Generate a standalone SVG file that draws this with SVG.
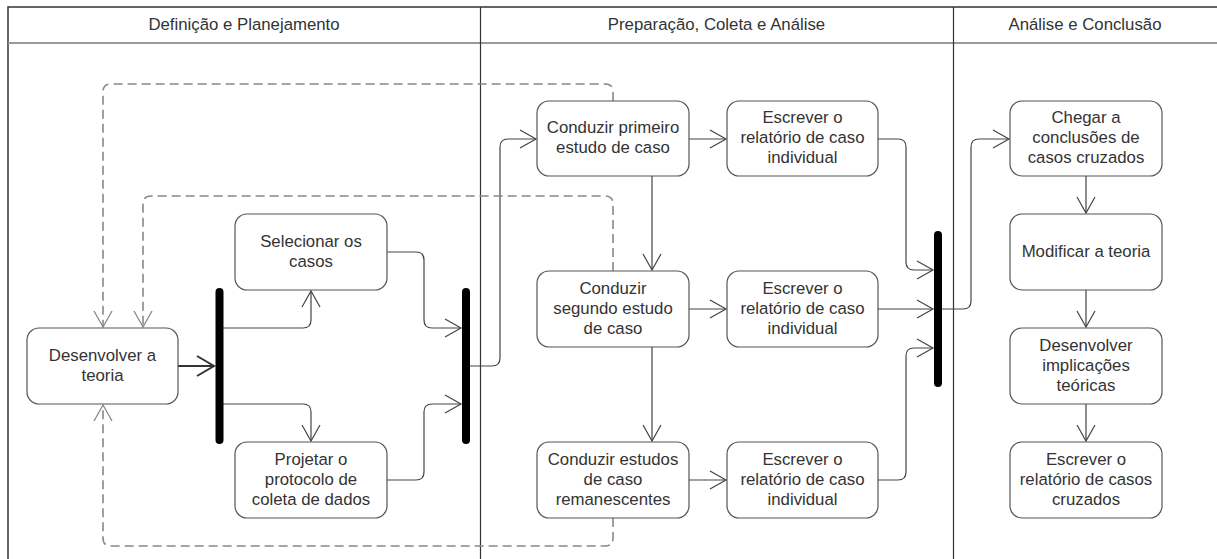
<svg xmlns="http://www.w3.org/2000/svg" width="1217" height="559" viewBox="0 0 1217 559">
<style>
.frame{stroke:#333;stroke-width:1.5;fill:none}
.hdrline{stroke:#999;stroke-width:2;fill:none}
.div{stroke:#333;stroke-width:1.2;fill:none}
.hdr{font-family:"Liberation Sans",Arial,sans-serif;font-size:16.8px;fill:#333;text-anchor:middle}
.node rect{fill:#fff;stroke:#555;stroke-width:1.2}
.node text{font-family:"Liberation Sans",Arial,sans-serif;font-size:16.8px;fill:#333;text-anchor:middle}
.bar{stroke:#000;stroke-width:8;stroke-linecap:round}
.c{fill:none;stroke:#444;stroke-width:1.2;marker-end:url(#arr)}
.thick{stroke:#333;stroke-width:2;marker-end:url(#arrT)}
.d{fill:none;stroke:#888;stroke-width:1.6;stroke-dasharray:9 5;marker-end:url(#arrD)}
</style>
<defs>
<marker id="arr" markerUnits="userSpaceOnUse" viewBox="-18 -11 20 22" refX="0" refY="0" markerWidth="20" markerHeight="22" orient="auto">
<path d="M-16,-9 L0,0 L-16,9" fill="none" stroke="#444" stroke-width="1.2"/>
</marker>
<marker id="arrT" markerUnits="userSpaceOnUse" viewBox="-20 -12 22 24" refX="0" refY="0" markerWidth="22" markerHeight="24" orient="auto">
<path d="M-17,-10 L0,0 L-17,10" fill="none" stroke="#333" stroke-width="2"/>
</marker>
<marker id="arrD" markerUnits="userSpaceOnUse" viewBox="-18 -11 20 22" refX="0" refY="0" markerWidth="20" markerHeight="22" orient="auto">
<path d="M-16,-9 L0,0 L-16,9" fill="none" stroke="#888" stroke-width="1.3"/>
</marker>
</defs>
<rect width="1217" height="559" fill="#fff"/>
<g id="swimlanes">
<path class="frame" d="M8,559 V7 H1217"/>
<path class="hdrline" d="M8,43 H1217"/>
<path class="div" d="M480.5,7 V559 M953.5,7 V559"/>
<text class="hdr" x="244" y="30">Definição e Planejamento</text>
<text class="hdr" x="716.5" y="30">Preparação, Coleta e Análise</text>
<text class="hdr" x="1085" y="30">Análise e Conclusão</text>
</g>
<g id="connectors">
<path class="c thick" d="M178,366 H214"/>
<path class="c" d="M223,328 H303 Q311,328 311,320 V291"/>
<path class="c" d="M223,404 H303 Q311,404 311,412 V441"/>
<path class="c" d="M387,252 H416 Q424,252 424,260 V320 Q424,328 432,328 H461"/>
<path class="c" d="M387,480 H416 Q424,480 424,472 V412 Q424,404 432,404 H461"/>
<path class="c" d="M470,366 H492 Q500,366 500,358 V147 Q500,139 508,139 H536"/>
<path class="c" d="M689,139 H726"/>
<path class="c" d="M652,176 V270"/>
<path class="c" d="M689,309 H726"/>
<path class="c" d="M652,347 V441"/>
<path class="c" d="M689,480 H726"/>
<path class="c" d="M878,139 H898 Q906,139 906,147 V262 Q906,270 914,270 H933"/>
<path class="c" d="M878,309 H933"/>
<path class="c" d="M878,480 H898 Q906,480 906,472 V356 Q906,348 914,348 H933"/>
<path class="c" d="M942,309 H963 Q971,309 971,301 V147 Q971,139 979,139 H1009"/>
<path class="c" d="M1086,176 V213"/>
<path class="c" d="M1086,290 V327"/>
<path class="c" d="M1086,404 V441"/>
<path class="d" d="M613,101 V92 Q613,84 605,84 H111 Q103,84 103,92 V327"/>
<path class="d" d="M613,271 V204 Q613,196 605,196 H151 Q143,196 143,204 V327"/>
<path class="d" d="M613,518 V538 Q613,546 605,546 H111 Q103,546 103,538 V405"/>
</g>
<g id="bar1"><line class="bar" x1="219.5" y1="292" x2="219.5" y2="440"/></g>
<g id="bar2"><line class="bar" x1="466" y1="292" x2="466" y2="440"/></g>
<g id="bar3"><line class="bar" x1="938" y1="235" x2="938" y2="383"/></g>
<g id="n_teoria" class="node"><rect x="27" y="328" width="151" height="76" rx="12"/><text x="102.5" y="360.5">Desenvolver a</text><text x="102.5" y="380.5">teoria</text></g>
<g id="n_selecionar" class="node"><rect x="235" y="214" width="152" height="76" rx="12"/><text x="311" y="246.5">Selecionar os</text><text x="311" y="266.5">casos</text></g>
<g id="n_projetar" class="node"><rect x="235" y="442" width="152" height="76" rx="12"/><text x="311" y="464.5">Projetar o</text><text x="311" y="484.5">protocolo de</text><text x="311" y="504.5">coleta de dados</text></g>
<g id="n_primeiro" class="node"><rect x="537" y="101" width="152" height="75" rx="12"/><text x="613" y="133">Conduzir primeiro</text><text x="613" y="153">estudo de caso</text></g>
<g id="n_rel1" class="node"><rect x="727" y="101" width="151" height="75" rx="12"/><text x="802.5" y="123">Escrever o</text><text x="802.5" y="143">relatório de caso</text><text x="802.5" y="163">individual</text></g>
<g id="n_segundo" class="node"><rect x="537" y="271" width="152" height="76" rx="12"/><text x="613" y="293.5">Conduzir</text><text x="613" y="313.5">segundo estudo</text><text x="613" y="333.5">de caso</text></g>
<g id="n_rel2" class="node"><rect x="727" y="271" width="151" height="76" rx="12"/><text x="802.5" y="293.5">Escrever o</text><text x="802.5" y="313.5">relatório de caso</text><text x="802.5" y="333.5">individual</text></g>
<g id="n_remanescentes" class="node"><rect x="537" y="442" width="152" height="76" rx="12"/><text x="613" y="464.5">Conduzir estudos</text><text x="613" y="484.5">de caso</text><text x="613" y="504.5">remanescentes</text></g>
<g id="n_rel3" class="node"><rect x="727" y="442" width="151" height="76" rx="12"/><text x="802.5" y="464.5">Escrever o</text><text x="802.5" y="484.5">relatório de caso</text><text x="802.5" y="504.5">individual</text></g>
<g id="n_chegar" class="node"><rect x="1010" y="101" width="152" height="75" rx="12"/><text x="1086" y="123">Chegar a</text><text x="1086" y="143">conclusões de</text><text x="1086" y="163">casos cruzados</text></g>
<g id="n_modificar" class="node"><rect x="1010" y="214" width="152" height="76" rx="12"/><text x="1086" y="256.5">Modificar a teoria</text></g>
<g id="n_implicacoes" class="node"><rect x="1010" y="328" width="152" height="76" rx="12"/><text x="1086" y="350.5">Desenvolver</text><text x="1086" y="370.5">implicações</text><text x="1086" y="390.5">teóricas</text></g>
<g id="n_cruzados" class="node"><rect x="1010" y="442" width="152" height="76" rx="12"/><text x="1086" y="464.5">Escrever o</text><text x="1086" y="484.5">relatório de casos</text><text x="1086" y="504.5">cruzados</text></g>
</svg>
